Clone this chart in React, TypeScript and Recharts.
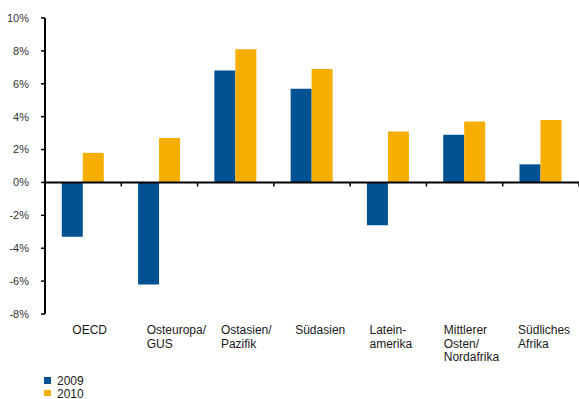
import React from "react";
import { BarChart, Bar, XAxis, YAxis, ReferenceLine, Legend } from "recharts";

// Regions (line breaks mark wrapped labels)
const regions = [
  "OECD",
  "Osteuropa/\nGUS",
  "Ostasien/\nPazifik",
  "Südasien",
  "Latein-\namerika",
  "Mittlerer\nOsten/\nNordafrika",
  "Südliches\nAfrika",
];

// Growth rates in percent
const growth2009 = [-3.3, -6.2, 6.8, 5.7, -2.6, 2.9, 1.1];
const growth2010 = [1.8, 2.7, 8.1, 6.9, 3.1, 3.7, 3.8];

const yTicks = [-8, -6, -4, -2, 0, 2, 4, 6, 8, 10];
const Y_DOMAIN: [number, number] = [-8, 10];

const seriesNames = ["2009", "2010"];
const BLUE = "#005293";
const YELLOW = "#F6AE00";

const data = regions.map((region, i) => ({
  region,
  y2009: growth2009[i],
  y2010: growth2010[i],
}));

// Chart geometry
const WIDTH = 579;
const HEIGHT = 399;
const TOP = 18;
const Y_AXIS_W = 45;
const X_AXIS_H = 85;
const PLOT_W = WIDTH - Y_AXIS_W;
const PLOT_H = HEIGHT - TOP - X_AXIS_H;
const BAND = PLOT_W / regions.length;
const ZERO_Y = TOP + (PLOT_H * Y_DOMAIN[1]) / (Y_DOMAIN[1] - Y_DOMAIN[0]);

const FONT = "'Liberation Sans', Arial, sans-serif";

const RegionTick = (props: any) => {
  const { x, y, payload, index } = props;
  const lines = String(payload.value).split("\n");
  const textX = x - 10.8 - 2 * index;
  return (
    <g>
      <line
        x1={x + BAND / 2}
        x2={x + BAND / 2}
        y1={ZERO_Y}
        y2={ZERO_Y + 4}
        stroke="#000"
        strokeWidth={1.5}
      />
      <text x={textX} y={y + 20} fontSize={12} fontFamily={FONT} fill="#1a1a1a">
        {lines.map((l, k) => (
          <tspan key={k} x={textX} dy={k === 0 ? 0 : 13.5}>
            {l}
          </tspan>
        ))}
      </text>
    </g>
  );
};

const LegendBox = () => (
  <div style={{ fontFamily: FONT, fontSize: 12, color: "#1a1a1a" }}>
    {seriesNames.map((name, i) => (
      <div key={name} style={{ position: "relative", height: 12.5, lineHeight: "12.5px" }}>
        <span
          style={{
            position: "absolute",
            left: 0,
            top: 2.3,
            width: 6.5,
            height: 6.5,
            background: i === 0 ? BLUE : YELLOW,
          }}
        />
        <span style={{ position: "absolute", left: 13, top: 0 }}>{name}</span>
      </div>
    ))}
  </div>
);

export default function App() {
  return (
    <div style={{ position: "absolute", left: 0, top: 0, width: WIDTH, height: HEIGHT, background: "#fff" }}>
      <BarChart
        width={WIDTH}
        height={HEIGHT}
        data={data}
        margin={{ top: TOP, right: 0, bottom: 0, left: 0 }}
        barCategoryGap="22%"
        barGap={0}
      >
        <XAxis
          dataKey="region"
          height={X_AXIS_H}
          axisLine={false}
          tickLine={false}
          tickSize={0}
          tickMargin={0}
          interval={0}
          tick={<RegionTick />}
        />
        <YAxis
          width={Y_AXIS_W}
          domain={Y_DOMAIN}
          ticks={yTicks}
          interval={0}
          tickFormatter={(v: number) => `${v}%`}
          axisLine={{ stroke: "#000", strokeWidth: 2 }}
          tickLine={{ stroke: "#000", strokeWidth: 1.5 }}
          tickSize={4}
          tickMargin={12}
          tick={{ fill: "#333", fontSize: 11, fontFamily: FONT }}
        />
        <Bar dataKey="y2009" name="2009" fill={BLUE} isAnimationActive={false} />
        <Bar dataKey="y2010" name="2010" fill={YELLOW} isAnimationActive={false} />
        <ReferenceLine y={0} stroke="#000" strokeWidth={2} />
        <Legend
          layout="vertical"
          align="center"
          verticalAlign="middle"
          content={<LegendBox />}
          wrapperStyle={{ position: "absolute", left: 44, top: 375, width: 80 }}
        />
      </BarChart>
    </div>
  );
}
